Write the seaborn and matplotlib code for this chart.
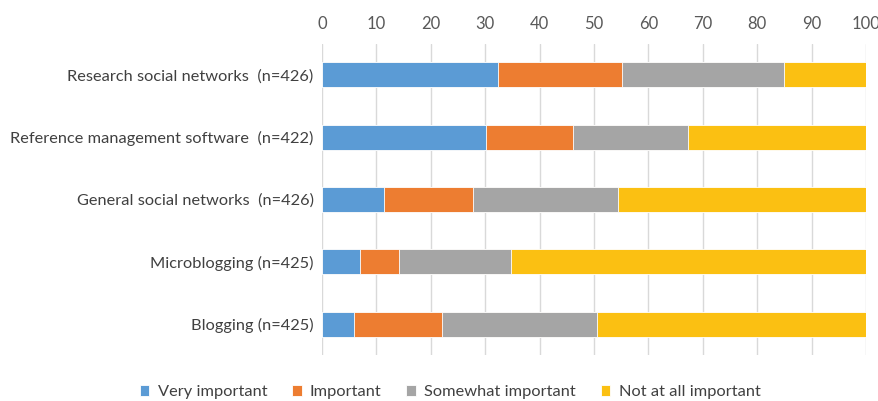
import pandas as pd
import seaborn as sns
import matplotlib.pyplot as plt
import numpy as np

# Share of respondents (%) per tool and importance level
tools = ['Research social networks  (n=426)',
         'Reference management software  (n=422)',
         'General social networks  (n=426)',
         'Microblogging (n=425)',
         'Blogging (n=425)']
levels = ['Very important', 'Important', 'Somewhat important', 'Not at all important']
very_important = [32.3, 30.2, 11.4, 6.9, 5.8]
important = [22.8, 15.9, 16.4, 7.2, 16.2]
somewhat_important = [29.8, 21.2, 26.6, 20.7, 28.5]
not_at_all_important = [15.1, 32.7, 45.6, 65.2, 49.5]
colors = ['#5B9BD5', '#ED7D31', '#A5A5A5', '#FBC012']

df = pd.DataFrame({'tool': tools,
                   levels[0]: very_important,
                   levels[1]: important,
                   levels[2]: somewhat_important,
                   levels[3]: not_at_all_important})
# cumulative sums so each layer can be drawn over the next one
cum = df[levels].cumsum(axis=1)

sns.set_style('white')
plt.rcParams['font.family'] = ['Lato', 'DejaVu Sans']

fig = plt.figure(figsize=(8.79, 4.01), dpi=100)
ax = fig.add_axes([0.3663, 0.1137, 0.6189, 0.7776])

for level, color in reversed(list(zip(levels, colors))):
    sns.barplot(x=cum[level], y=df['tool'], color=color, orient='h',
                width=0.4, edgecolor='white', linewidth=0.6, ax=ax,
                saturation=1, label=level, zorder=3)

ax.set_xlim(0, 100)
ax.set_xticks(np.arange(0, 101, 10))
ax.xaxis.tick_top()
ax.tick_params(axis='x', length=0, labelsize=12, labelcolor='#595959', pad=8)
ax.tick_params(axis='y', length=0, labelsize=11.8, labelcolor='#404040', pad=6)
ax.grid(axis='x', color='#D9D9D9', linewidth=1, zorder=0)
ax.set_axisbelow(True)
for s in ax.spines.values():
    s.set_visible(False)
ax.set_xlabel('')
ax.set_ylabel('')

handles, labels = ax.get_legend_handles_labels()
if ax.get_legend() is not None:
    ax.get_legend().remove()
order = [labels.index(l) for l in levels]
fig.legend([handles[i] for i in order], levels, loc='center',
           bbox_to_anchor=(0.512, 0.022), ncol=4, frameon=False,
           fontsize=11.8, handlelength=0.6, handleheight=0.6,
           handletextpad=0.5, columnspacing=1.5, labelcolor='#404040')

fig.savefig('out.png', dpi=100)
